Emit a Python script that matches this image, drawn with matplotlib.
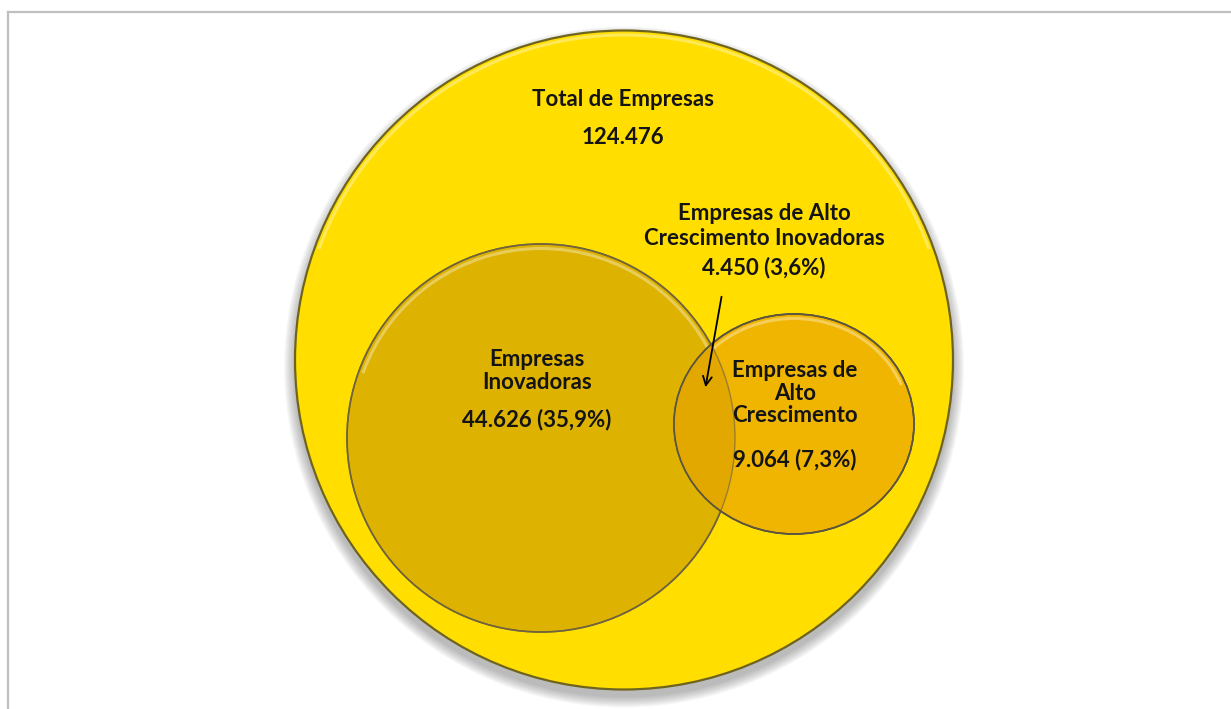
"""
Venn-style diagram: total firms, innovative firms and high-growth firms.
Saves out.png (1231x709).
"""

import matplotlib

matplotlib.use("Agg")

import matplotlib.pyplot as plt  # noqa: E402
from matplotlib.patches import Arc, Ellipse  # noqa: E402

# --- data -----------------------------------------------------------------
TOTAL_LABEL = "Total de Empresas"
TOTAL_VALUE = "124.476"

SET_LABELS = ["Empresas\nInovadoras", "Empresas de\nAlto\nCrescimento"]
SET_VALUES = ["44.626", "9.064"]
SET_PCTS = ["35,9%", "7,3%"]

OVERLAP_LABEL = "Empresas de Alto\nCrescimento Inovadoras"
OVERLAP_VALUE = "4.450"
OVERLAP_PCT = "3,6%"

# --- layout (pixel space, y grows downwards) ------------------------------
W, H = 1231, 709
BIG = dict(cx=624, cy=360, w=658, h=659, color="#FFDE00")
INOV = dict(cx=541, cy=438, w=388, h=388, color="#DDB200")
ALTO = dict(cx=794, cy=424, w=240, h=220, color="#F0B500")
OVERLAP_COLOR = "#E3A800"
EDGE = "#5a5440"
FONT = ["Lato", "DejaVu Sans"]
TEXT_COLOR = "#141414"


def shadow(ax, c, dy=7, steps=10, alpha=0.04):
    for i in range(steps):
        grow = 2 + i * 2.2
        ax.add_patch(Ellipse((c["cx"], c["cy"] + dy), c["w"] + grow, c["h"] + grow,
                             facecolor="#404040", edgecolor="none", alpha=alpha, zorder=1))


def disc(ax, c, z, edge=EDGE, lw=1.2):
    ax.add_patch(Ellipse((c["cx"], c["cy"]), c["w"], c["h"], facecolor=c["color"],
                         edgecolor=edge, linewidth=lw, zorder=z))
    # glossy rim near the top
    ax.add_patch(Arc((c["cx"], c["cy"]), c["w"] - 9, c["h"] - 9, theta1=200, theta2=340,
                     color="white", alpha=0.35, linewidth=2.2, zorder=z + 0.1))


fig = plt.figure(figsize=(W / 100, H / 100), dpi=100)
ax = fig.add_axes([0, 0, 1, 1])
ax.set_xlim(0, W)
ax.set_ylim(H, 0)
ax.set_aspect("equal")
ax.axis("off")

# frame
ax.plot([8, W], [12, 12], color="#bfbfbf", linewidth=1.6, zorder=0)
ax.plot([8, 8], [12, H], color="#bfbfbf", linewidth=1.6, zorder=0)

shadow(ax, BIG)
disc(ax, BIG, 2, edge="#6e6420", lw=1.6)

shadow(ax, INOV, dy=5, steps=6, alpha=0.045)
disc(ax, INOV, 3)

disc(ax, ALTO, 4)
# intersection: Alto ellipse clipped by the Inovadoras circle
clip = Ellipse((INOV["cx"], INOV["cy"]), INOV["w"], INOV["h"], transform=ax.transData)
lens = Ellipse((ALTO["cx"], ALTO["cy"]), ALTO["w"], ALTO["h"], facecolor=OVERLAP_COLOR,
               edgecolor="none", zorder=4.2)
ax.add_patch(lens)
lens.set_clip_path(clip)
ax.add_patch(Ellipse((INOV["cx"], INOV["cy"]), INOV["w"], INOV["h"], facecolor="none",
                     edgecolor="#7a6a40", linewidth=1.0, alpha=0.7, zorder=4.3))
ax.add_patch(Ellipse((ALTO["cx"], ALTO["cy"]), ALTO["w"], ALTO["h"], facecolor="none",
                     edgecolor=EDGE, linewidth=1.2, zorder=4.4))

txt = dict(ha="center", va="center", fontsize=16, fontweight="bold",
           color=TEXT_COLOR, family=FONT, zorder=6)

ax.text(623, 100, TOTAL_LABEL, **txt)
ax.text(623, 137, TOTAL_VALUE, **txt)

ax.text(764, 226, OVERLAP_LABEL, linespacing=1.2, **txt)
ax.text(764, 268, f"{OVERLAP_VALUE} ({OVERLAP_PCT})", **txt)

ax.text(537, 371, SET_LABELS[0], linespacing=1.1, **txt)
ax.text(537, 420, f"{SET_VALUES[0]} ({SET_PCTS[0]})", **txt)

ax.text(795, 393, SET_LABELS[1], linespacing=1.07, **txt)
ax.text(795, 460, f"{SET_VALUES[1]} ({SET_PCTS[1]})", **txt)

ax.annotate("", xy=(705, 390), xytext=(722, 294), zorder=7,
            arrowprops=dict(arrowstyle="->", color="black", linewidth=1.3,
                            mutation_scale=16))

fig.savefig("out.png", dpi=100, facecolor="white")
plt.close(fig)
